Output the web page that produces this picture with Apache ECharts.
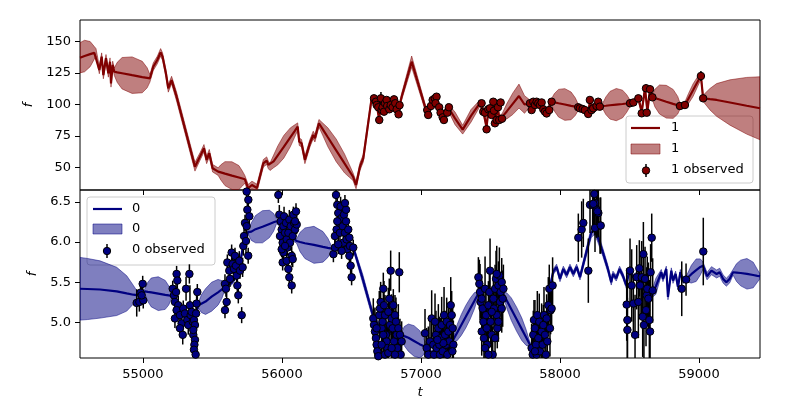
<!DOCTYPE html>
<html><head><meta charset="utf-8">
<script src="https://cdn.jsdelivr.net/npm/echarts@6/dist/echarts.min.js"></script>
<style>html,body{margin:0;padding:0;background:#fff}#c{width:800px;height:400px}</style>
</head><body><div id="c"></div>
<script>
// ---------- tick labels ----------
const xTicks = [55000, 56000, 57000, 58000, 59000];
const yTicksTop = [50, 75, 100, 125, 150];
const yTicksBottom = [5.0, 5.5, 6.0, 6.5];

// ---------- series "1" (top): GP prediction ----------
const gp1T = [54547,54580,54620,54650,54662,54686,54703,54715,54734,54751,54763,54770,54782,54794,54815,54850,54922,54995,55030,55050,
55074,55103,55127,55141,55165,55182,55206,55242,55374,55410,55439,55458,55477,55501,55541,55560,55590,55640,55690,55715,55733,55757,
55784,55820,55866,55890,55902,55914,55940,55970,56013,56060,56090,56113,56124,56141,56165,56201,56225,56237,56266,56295,56330,56390,
56450,56485,56511,56533,56561,56585,56645,56681,56700,56712,56734,56753,56772,56796,56825,56846,56861,56933,57029,57052,57084,57112,
57156,57192,57245,57300,57360,57424,57448,57472,57484,57508,57520,57532,57554,57563,57583,57617,57660,57705,57745,57784,57796,57808,
57856,57880,57904,57940,57960,57990,58035,58080,58110,58131,58163,58203,58215,58239,58287,58309,58330,58360,58405,58450,58480,58504,
58528,58564,58588,58612,58629,58648,58667,58683,58716,58765,58814,58847,58863,58899,58925,58957,58988,59014,59030,59079,59127,59223,
59343,59439];
const gp1Mean = [137.1,138.5,140,141,141.4,127.4,138,123.4,136.7,124.7,134,116.8,131.4,126,125.5,124.8,123.3,121.8,121.2,120.8,
130,135.3,141.4,138,124.8,112.8,119.4,106.2,50.6,58.6,65.2,56,61.3,49.4,46.7,46.1,45.1,43.5,42,41.2,40.6,33.5,
36.1,33.7,53.3,55.4,52,50.6,54.8,59.6,66.4,73.9,78.7,82.4,70.5,69.2,56,69.2,75.8,73.2,85.1,80.1,74,63.6,
53.2,47.2,42.7,36.1,50.6,57.3,104.9,100,88,104,95,103,97,98,97,99,106.2,134,98.3,92,103,104,
91,98.3,89,80,91,101,95,82,95,92,101,86,97,89,90,94.5,100.5,106.7,100,101,96,101.5,
100,96.5,93.5,102.2,101.7,101,100,98.9,98.3,97.8,96.5,93,102,97,98.5,98.8,99,99.4,99.9,100.4,100.8,101,
101.6,104.9,94.3,112.9,94.3,112.9,105.7,105.1,104,102.2,100.5,99.4,98.8,99.6,104.8,111.3,117.7,122.6,104.9,104.2,103.6,101.6,
99,97];
const gp1Std = [12,12.5,10,5,3,3,3,3,3,3,3,3,3,3,8,12.5,14.5,12.5,8,3,
3,3,3,3,3,3,3,3.5,3.5,3,3,3,3,3,3,6,9.5,11,9.5,6,3,3,
3,3,3,3,3,3,5,7.5,9,7.5,5,3,3,3,3,3,3,3,3,5,7.5,9,
7.5,5,3,3,3,3,2.5,2.5,2.5,2.5,2.5,2.5,2.5,2.5,2.5,2.5,2.5,4.5,2.5,2.5,2.5,2.5,
2.5,2.5,5,3.5,5,2.5,2.5,2.5,2.5,2.5,2.5,2.5,2.5,2.5,2.5,6,8.5,9.5,7,2.5,2.5,2.5,
2.5,2.5,2.5,2.5,7,11,12.6,11,7,2.5,2.5,2.5,2.5,2.5,2.5,2.5,7,11,12.8,11,7,2.5,
2.5,2.5,2.5,2.5,2.5,2.5,2.5,7,11.5,13,11.5,7,2.5,2.5,4,5,4,2.5,2.5,8.5,13,18,
22.5,25];

// ---------- series "1" (top): observations ----------
const obs1T = [56662,56676,56681,56693,56700,56712,56717,56724,56734,56741,56753,56757,56772,56782,56796,56806,56815,56825,56839,56846,
57045,57052,57072,57084,57100,57112,57105,57131,57141,57156,57165,57189,57201,
57436,57448,57460,57472,57484,57496,57508,57520,57525,57532,57544,57554,57563,57573,57583,
57784,57796,57808,57820,57832,57844,57856,57868,57880,57892,57904,57923,57940,
58131,58143,58163,58179,58203,58215,58227,58239,58263,58275,58287,
58504,58528,58564,58588,58624,58619,58648,58665,58863,58899,59014,59030];
const obs1F = [104.9,102.2,99.6,97.8,87.7,104.9,95.6,97.8,94.3,101,103.6,98.8,96.2,99.6,97.8,104.1,101,96.2,92.2,99.4,
95.6,91.7,98.8,103.6,104.9,106.2,101,97.8,93.5,89.8,87.7,93.5,97.8,
101,94.3,93.5,80.3,96.2,97,91.7,102.2,95.1,85.1,87.7,97.8,87.7,101.6,88.7,
101,95.6,102.2,99.6,102.2,101,99.6,101.6,96.2,94.3,92.9,95.6,102.2,
97.8,97,96.4,95.6,92.5,103.6,95.6,97,98.8,102.2,98.3,
101,101.6,104.9,93,93.5,112.9,112.1,105.7,98.8,99.6,122.6,104.9];
const obs1Err = [1.5,1.5,1.5,1.5,1.5,5,1.5,1.5,1.5,1.5,1.5,1.5,1.5,1.5,1.5,1.5,1.5,1.5,1.5,1.5,
1.5,1.5,1.5,1.5,1.5,1.5,1.5,1.5,1.5,1.5,1.5,1.5,1.5,
1.5,1.5,1.5,1.5,1.5,1.5,1.5,1.5,1.5,1.5,1.5,1.5,1.5,1.5,1.5,
1.5,1.5,1.5,1.5,1.5,1.5,1.5,1.5,1.5,1.5,1.5,1.5,1.5,
1.5,1.5,1.5,1.5,1.5,1.5,1.5,1.5,1.5,1.5,1.5,
1.5,1.5,1.5,1.5,1.5,3,2,1.5,1.5,1.5,4,1.5];

// ---------- series "0" (bottom): GP prediction ----------
const gp0T = [54547,54600,54691,54811,54883,54931,54966,55014,55035,55060,55110,55160,55185,55206,55230,55260,55290,55320,55350,55375,
55398,55420,55450,55494,55540,55568,55590,55640,55680,55700,55720,55757,55780,55810,55860,55910,55940,55961,56000,56040,
56080,56106,56130,56165,56230,56295,56330,56357,56380,56420,56460,56513,56580,56657,56700,56750,56800,56840,56861,56880,
56910,56950,56990,57015,57036,57080,57120,57160,57200,57232,57260,57290,57322,57355,57385,57412,57450,57480,57520,57560,
57592,57620,57650,57688,57725,57755,57784,57832,57892,57916,57928,57951,57976,58000,58024,58048,58072,58096,58120,58144,
58189,58225,58249,58273,58309,58345,58369,58381,58405,58429,58453,58477,58501,58525,58561,58609,58657,58690,58729,58741,
58765,58777,58801,58813,58832,58849,58866,58885,58909,58945,58980,59010,59029,59058,59090,59127,59149,59173,59197,59221,
59245,59270,59300,59345,59390,59420,59439];
const gp0Mean = [5.419,5.416,5.41,5.386,5.361,5.345,5.337,5.386,5.38,5.373,5.358,5.343,5.336,5.329,5.25,5.12,5.08,5.05,4.98,5.05,
5.214,5.233,5.26,5.32,5.375,5.41,5.44,5.5,5.6,5.75,5.95,6.123,6.13,6.16,6.19,6.225,6.245,6.258,6.2,6.1,
6.05,6.012,6.0,5.985,5.965,5.94,5.928,5.919,5.95,5.97,5.95,5.931,5.55,5.07,4.95,4.85,4.9,4.88,4.845,4.83,
4.81,4.77,4.73,4.71,4.682,4.62,4.65,4.66,4.7,4.784,4.873,4.969,5.07,5.175,5.271,5.357,5.2,5.15,5.25,5.35,
5.357,5.264,5.165,5.04,4.917,4.818,4.722,4.645,4.927,5.214,5.44,5.628,5.69,5.542,5.665,5.59,5.69,5.603,5.69,5.563,
5.87,6.115,6.156,6.054,5.87,5.665,5.5,5.603,5.55,5.665,5.58,5.46,5.665,5.56,5.603,5.419,5.337,5.45,5.624,5.542,
5.665,5.317,5.644,5.521,5.603,5.44,5.624,5.521,5.542,5.6,5.65,5.69,5.706,5.575,5.644,5.603,5.624,5.542,5.501,5.542,
5.624,5.62,5.615,5.605,5.59,5.58,5.575];
const gp0Std = [0.39,0.38,0.356,0.3,0.22,0.115,0.03,0.03,0.12,0.18,0.21,0.18,0.12,0.03,0.03,0.03,0.03,0.03,0.03,0.03,
0.03,0.11,0.16,0.18,0.16,0.11,0.03,0.03,0.03,0.03,0.03,0.03,0.11,0.17,0.2,0.17,0.11,0.03,0.03,0.03,
0.03,0.03,0.12,0.19,0.23,0.19,0.12,0.03,0.03,0.03,0.03,0.03,0.055,0.045,0.03,0.03,0.03,0.03,0.03,0.12,
0.17,0.19,0.17,0.12,0.03,0.03,0.03,0.03,0.03,0.03,0.1,0.13,0.14,0.13,0.1,0.03,0.03,0.03,0.03,0.03,
0.03,0.1,0.14,0.15,0.14,0.1,0.03,0.03,0.035,0.035,0.035,0.035,0.035,0.035,0.035,0.035,0.035,0.035,0.035,0.035,
0.05,0.06,0.06,0.06,0.05,0.045,0.035,0.035,0.035,0.035,0.035,0.035,0.035,0.035,0.035,0.035,0.035,0.1,0.035,0.035,
0.035,0.035,0.035,0.035,0.035,0.035,0.035,0.035,0.035,0.11,0.14,0.1,0.045,0.045,0.05,0.05,0.05,0.05,0.05,0.05,
0.035,0.11,0.16,0.19,0.16,0.08,0.03];

// ---------- series "0" (bottom): observations ----------
const obs0T = [54955,54974,54983,54998,55002,54991,
55214,55223,55230,55242,55247,55238,55254,55242,55230,55266,55278,55266,55286,55290,55302,55310,55319,55326,55334,55338,55343,55350,55358,55362,55367,55374,55382,55386,55391,55374,55370,55367,55379,55362,
55590,55597,55602,55590,55607,55621,55626,55638,55645,55655,55662,55669,55674,55679,55686,55693,55698,55710,55717,55722,55727,55734,55741,55746,55751,55758,55765,55746,55757,
55974,55981,55991,55998,55986,56005,56010,56015,56022,56029,56034,56039,56046,56053,56058,56063,56070,56077,56082,56087,56094,56101,56106,56010,56005,56034,56046,56053,56070,55998,56022,56077,56094,
56389,56398,56405,56413,56393,56381,56417,56422,56429,56437,56441,56446,56453,56461,56465,56470,56477,56485,56489,56494,56501,56485,56461,56370,56381,56405,56429,56513,56453,56398,
56657,56662,56669,56676,56681,56686,56693,56700,56705,56710,56717,56724,56729,56734,56741,56748,56753,56758,56765,56772,56777,56782,56789,56796,56801,56806,56813,56820,56825,56830,56837,56844,56849,56854,56861,56717,56741,56765,56789,56813,56681,56729,
57029,57041,57053,57065,57077,57089,57094,57101,57108,57113,57125,57132,57137,57142,57149,57156,57166,57173,57180,57185,57190,57197,57204,57209,57214,57221,57228,57233,57226,57161,57118,
57413,57420,57425,57429,57437,57444,57449,57437,57453,57461,57468,57473,57477,57485,57492,57497,57501,57509,57516,57521,57525,57533,57540,57545,57549,57557,57564,57569,57573,57581,57588,57593,57461,57485,57533,57509,57557,57581,57545,
57796,57804,57808,57813,57820,57828,57832,57837,57844,57851,57856,57868,57875,57880,57885,57892,57899,57904,57909,57916,57923,57928,57933,57940,57947,57820,
58132,58156,58168,58204,58216,58235,58252,58264,58276,58288,58247,58240,58269,58252,58293,
58480,58485,58485,58504,58516,58528,58540,58552,58564,58571,58576,58588,58595,58600,58604,58612,58619,58624,58628,58636,58643,58648,58652,58660,58667,
58876,58907,59031];
const obs0F = [5.243,5.255,5.37,5.48,5.275,5.337,
5.419,5.337,5.255,5.603,5.521,5.378,5.214,5.153,5.05,5.091,4.989,4.928,4.846,5.173,5.112,5.419,5.03,4.968,5.603,5.214,5.091,5.132,5.009,4.846,5.03,4.968,5.112,5.235,5.378,4.784,4.723,4.661,4.6,4.907,
5.48,5.419,5.255,5.153,5.746,5.644,5.542,5.869,5.726,5.665,5.828,5.706,5.583,5.46,5.337,5.767,5.644,5.091,5.685,5.951,6.074,6.238,6.013,6.197,6.402,6.525,6.32,6.627,5.83,
6.586,6.34,6.258,6.156,6.074,5.992,6.197,6.32,6.115,6.238,6.033,5.931,6.115,6.279,5.992,6.197,5.828,6.074,6.34,6.238,6.156,6.381,6.218,5.869,5.746,5.767,5.665,5.562,5.46,5.91,5.951,5.787,6.258,
6.586,6.463,6.361,6.238,6.156,6.074,6.115,6.443,6.299,6.197,5.992,6.34,6.115,6.258,6.033,5.91,6.156,5.828,5.951,5.706,5.562,6.054,6.402,5.849,5.931,5.972,5.89,5.931,6.484,6.258,
5.05,4.969,4.887,4.805,4.723,4.641,4.58,5.091,5.173,5.255,4.928,5.009,5.419,5.214,5.091,4.846,4.764,4.682,5.132,5.296,4.969,5.644,5.05,4.928,5.214,4.764,5.091,5.009,4.846,4.682,4.928,5.624,4.846,4.6,4.764,4.723,4.6,4.62,4.682,4.6,4.928,4.846,
4.866,4.682,4.6,4.764,5.05,4.723,4.6,5.009,4.846,4.682,4.928,4.723,4.6,4.805,4.968,4.641,5.091,4.846,4.723,5.009,4.6,4.887,4.764,4.968,5.214,5.091,4.928,4.723,4.641,4.743,4.784,
5.562,5.48,5.378,5.255,5.296,5.173,5.009,4.887,4.805,5.419,5.091,4.928,4.723,5.214,5.378,5.644,5.009,4.846,4.6,5.296,5.173,5.419,5.542,5.091,4.928,5.46,5.583,5.255,5.378,5.501,5.296,5.419,4.682,4.6,4.805,5.132,5.009,5.173,5.603,
4.682,4.6,4.846,5.03,4.928,4.723,4.6,5.091,4.805,5.009,4.641,4.887,4.723,4.968,5.091,4.846,4.6,5.05,4.764,5.214,5.419,4.928,5.153,5.173,5.46,4.641,
6.054,6.156,6.238,5.644,6.463,6.463,6.484,6.402,6.361,6.205,6.598,6.475,6.381,6.176,6.205,
5.222,5.03,4.907,5.644,5.46,5.235,4.846,5.562,5.255,5.673,5.46,5.562,5.071,5.849,4.968,5.542,5.153,5.337,5.419,5.296,5.03,4.887,5.624,6.054,5.398,
5.419,5.533,5.882];
const obs0Err = [0.17,0.12,0.1,0.1,0.1,0.12,
0.1,0.12,0.1,0.1,0.1,0.12,0.12,0.1,0.12,0.1,0.12,0.1,0.12,0.1,0.1,0.15,0.1,0.12,0.12,0.25,0.1,0.12,0.1,0.1,0.1,0.1,0.12,0.1,0.1,0.1,0.1,0.1,0.1,0.1,
0.12,0.1,0.12,0.1,0.1,0.12,0.1,0.1,0.12,0.15,0.1,0.1,0.12,0.1,0.1,0.12,0.1,0.1,0.12,0.12,0.1,0.1,0.15,0.12,0.1,0.12,0.1,0.1,0.1,
0.1,0.12,0.1,0.1,0.12,0.1,0.1,0.12,0.1,0.1,0.12,0.1,0.1,0.12,0.1,0.1,0.12,0.1,0.1,0.12,0.1,0.1,0.12,0.1,0.1,0.12,0.1,0.1,0.1,0.1,0.12,0.1,0.1,
0.1,0.12,0.1,0.1,0.12,0.1,0.1,0.12,0.1,0.1,0.12,0.1,0.1,0.12,0.1,0.1,0.12,0.1,0.1,0.12,0.1,0.1,0.12,0.1,0.1,0.12,0.1,0.1,0.1,0.1,
0.25,0.2,0.3,0.25,0.2,0.3,0.25,0.3,0.2,0.25,0.3,0.25,0.2,0.3,0.25,0.3,0.2,0.25,0.3,0.25,0.2,0.25,0.3,0.25,0.2,0.3,0.25,0.3,0.2,0.25,0.3,0.25,0.2,0.3,0.25,0.3,0.25,0.2,0.3,0.25,0.2,0.3,
0.3,0.25,0.35,0.3,0.35,0.25,0.3,0.35,0.3,0.25,0.3,0.35,0.3,0.25,0.35,0.3,0.35,0.3,0.25,0.3,0.35,0.3,0.25,0.3,0.35,0.3,0.25,0.3,0.35,0.3,0.25,
0.25,0.3,0.35,0.2,0.3,0.25,0.35,0.3,0.25,0.4,0.3,0.25,0.35,0.3,0.25,0.4,0.3,0.25,0.35,0.3,0.25,0.3,0.35,0.3,0.25,0.3,0.35,0.3,0.25,0.3,0.35,0.3,0.25,0.3,0.35,0.3,0.25,0.3,0.35,
0.3,0.35,0.3,0.25,0.35,0.3,0.35,0.3,0.25,0.35,0.3,0.35,0.3,0.25,0.35,0.3,0.35,0.3,0.25,0.35,0.3,0.35,0.3,0.25,0.35,0.3,
0.3,0.35,0.3,0.4,0.35,0.35,0.4,0.35,0.3,0.35,0.4,0.35,0.3,0.3,0.35,
0.45,0.5,0.4,0.4,0.45,0.35,0.5,0.4,0.45,0.35,0.4,0.45,0.5,0.4,0.45,0.4,0.45,0.35,0.4,0.45,0.5,0.45,0.35,0.3,0.4,
0.34,0.2,0.42];

// ---------- colours ----------
const RED = '#800000', RED_BAND = 'rgba(128,0,0,0.5)';
const BLUE = '#000080', BLUE_BAND = 'rgba(0,0,128,0.5)';
const FONT = 'DejaVu Sans';

function bandSeries(idx, ts, ms, ss, col) {
  return {
    type: 'custom', xAxisIndex: idx, yAxisIndex: idx, clip: true, silent: true, z: 1,
    data: [[ts[0], ms[0]]],
    renderItem: function (params, api) {
      const up = [], lo = [];
      for (let i = 0; i < ts.length; i++) {
        up.push(api.coord([ts[i], ms[i] + ss[i]]));
        lo.push(api.coord([ts[i], ms[i] - ss[i]]));
      }
      const cs = params.coordSys;
      return {
        type: 'group',
        clipPath: {type: 'rect', shape: {x: cs.x, y: cs.y, width: cs.width, height: cs.height}},
        children: [{type: 'polygon', shape: {points: up.concat(lo.reverse())},
          style: {fill: col, stroke: col, lineWidth: 1}}]
      };
    }
  };
}
function lineSeries(idx, ts, ms, col) {
  return {type: 'line', xAxisIndex: idx, yAxisIndex: idx, silent: true, z: 2, clip: true,
    showSymbol: false, symbol: 'none', data: ts.map((t, i) => [t, ms[i]]),
    lineStyle: {color: col, width: 2.2}};
}
function errSeries(idx, ts, fs, es) {
  return {
    type: 'custom', xAxisIndex: idx, yAxisIndex: idx, clip: true, silent: true, z: 3,
    data: ts.map((t, i) => [t, fs[i] - es[i], fs[i] + es[i]]),
    renderItem: function (params, api) {
      const a = api.coord([api.value(0), api.value(1)]);
      const b = api.coord([api.value(0), api.value(2)]);
      const cs = params.coordSys;
      return {type: 'group',
        clipPath: {type: 'rect', shape: {x: cs.x, y: cs.y, width: cs.width, height: cs.height}},
        children: [{type: 'line', shape: {x1: a[0], y1: a[1], x2: b[0], y2: b[1]},
          style: {stroke: '#000', lineWidth: 1.5}}]};
    }
  };
}
function pointSeries(idx, ts, fs, col) {
  return {type: 'scatter', xAxisIndex: idx, yAxisIndex: idx, silent: true, z: 4, clip: true,
    symbol: 'circle', symbolSize: 7.5, data: ts.map((t, i) => [t, fs[i]]),
    itemStyle: {color: col, borderColor: '#000', borderWidth: 1, opacity: 1}};
}

const axisCommon = {
  type: 'value', min: 54547, max: 59439,
  axisLine: {show: false}, splitLine: {show: false},
  axisTick: {show: true, inside: false, length: 5, customValues: xTicks, lineStyle: {color: '#000', width: 1}}
};
const tickStyle = {color: '#000', fontSize: 13, fontFamily: FONT};

const chart = echarts.init(document.getElementById('c'), null, {renderer: 'canvas'});
chart.setOption({
  animation: false,
  backgroundColor: '#fff',
  grid: [
    {left: 80, top: 20, width: 680, height: 170, show: true, borderColor: '#000', borderWidth: 1, backgroundColor: 'transparent'},
    {left: 80, top: 190, width: 680, height: 170, show: true, borderColor: '#000', borderWidth: 1, backgroundColor: 'transparent'}
  ],
  xAxis: [
    Object.assign({gridIndex: 0, axisLabel: {show: false}}, axisCommon),
    Object.assign({gridIndex: 1, name: 't', nameLocation: 'middle', nameGap: 28,
      nameTextStyle: {color: '#000', fontSize: 13, fontFamily: FONT, fontStyle: 'italic'},
      axisLabel: Object.assign({show: true, margin: 10, customValues: xTicks, formatter: v => String(Math.round(v))}, tickStyle)}, axisCommon)
  ],
  yAxis: [
    {gridIndex: 0, type: 'value', min: 32.1, max: 167.1, axisLine: {show: false}, splitLine: {show: false},
     axisTick: {show: true, length: 5, customValues: yTicksTop, lineStyle: {color: '#000'}},
     axisLabel: Object.assign({margin: 9, customValues: yTicksTop, formatter: v => String(Math.round(v))}, tickStyle),
     name: 'f', nameLocation: 'middle', nameGap: 45,
     nameTextStyle: {color: '#000', fontSize: 13, fontFamily: FONT, fontStyle: 'italic'}},
    {gridIndex: 1, type: 'value', min: 4.558, max: 6.647, axisLine: {show: false}, splitLine: {show: false},
     axisTick: {show: true, length: 5, customValues: yTicksBottom, lineStyle: {color: '#000'}},
     axisLabel: Object.assign({margin: 9, customValues: yTicksBottom, formatter: v => Number(v).toFixed(1)}, tickStyle),
     name: 'f', nameLocation: 'middle', nameGap: 41,
     nameTextStyle: {color: '#000', fontSize: 13, fontFamily: FONT, fontStyle: 'italic'}}
  ],
  series: [
    bandSeries(0, gp1T, gp1Mean, gp1Std, RED_BAND),
    lineSeries(0, gp1T, gp1Mean, RED),
    errSeries(0, obs1T, obs1F, obs1Err),
    pointSeries(0, obs1T, obs1F, RED),
    bandSeries(1, gp0T, gp0Mean, gp0Std, BLUE_BAND),
    lineSeries(1, gp0T, gp0Mean, BLUE),
    errSeries(1, obs0T, obs0F, obs0Err),
    pointSeries(1, obs0T, obs0F, BLUE)
  ],
  graphic: [
    // top legend
    {type: 'group', z: 100, children: [
      {type: 'rect', shape: {x: 626, y: 116, width: 127, height: 67, r: 3},
       style: {fill: 'rgba(255,255,255,0.8)', stroke: '#cccccc', lineWidth: 1}},
      {type: 'line', shape: {x1: 631, y1: 128, x2: 660, y2: 128}, style: {stroke: RED, lineWidth: 2.2}},
      {type: 'rect', shape: {x: 631, y: 144, width: 29, height: 10}, style: {fill: RED_BAND, stroke: RED_BAND, lineWidth: 1}},
      {type: 'line', shape: {x1: 646, y1: 164, x2: 646, y2: 177}, style: {stroke: '#000', lineWidth: 1.5}},
      {type: 'circle', shape: {cx: 646, cy: 170.5, r: 3.7}, style: {fill: RED, stroke: '#000', lineWidth: 1}},
      {type: 'text', x: 671, y: 128, style: {text: '1', fill: '#000', font: '13px "DejaVu Sans"', verticalAlign: 'middle'}},
      {type: 'text', x: 671, y: 149, style: {text: '1', fill: '#000', font: '13px "DejaVu Sans"', verticalAlign: 'middle'}},
      {type: 'text', x: 671, y: 170, style: {text: '1 observed', fill: '#000', font: '13px "DejaVu Sans"', verticalAlign: 'middle'}}
    ]},
    // bottom legend
    {type: 'group', z: 100, children: [
      {type: 'rect', shape: {x: 87, y: 197, width: 128, height: 68, r: 3},
       style: {fill: 'rgba(255,255,255,0.8)', stroke: '#cccccc', lineWidth: 1}},
      {type: 'line', shape: {x1: 93, y1: 209, x2: 122, y2: 209}, style: {stroke: BLUE, lineWidth: 2.2}},
      {type: 'rect', shape: {x: 93, y: 224, width: 29, height: 10}, style: {fill: BLUE_BAND, stroke: BLUE_BAND, lineWidth: 1}},
      {type: 'line', shape: {x1: 107, y1: 244, x2: 107, y2: 258}, style: {stroke: '#000', lineWidth: 1.5}},
      {type: 'circle', shape: {cx: 107, cy: 251, r: 3.7}, style: {fill: BLUE, stroke: '#000', lineWidth: 1}},
      {type: 'text', x: 132, y: 209, style: {text: '0', fill: '#000', font: '13px "DejaVu Sans"', verticalAlign: 'middle'}},
      {type: 'text', x: 132, y: 229, style: {text: '0', fill: '#000', font: '13px "DejaVu Sans"', verticalAlign: 'middle'}},
      {type: 'text', x: 132, y: 250, style: {text: '0 observed', fill: '#000', font: '13px "DejaVu Sans"', verticalAlign: 'middle'}}
    ]}
  ]
});
</script>
</body></html>
